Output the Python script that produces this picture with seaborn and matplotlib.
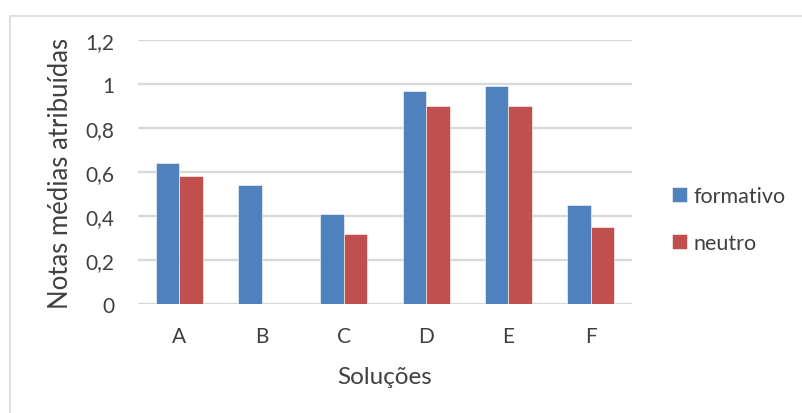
import pandas as pd
import matplotlib
matplotlib.use("Agg")
import matplotlib.pyplot as plt
import seaborn as sns
from matplotlib.patches import Rectangle
from matplotlib.ticker import FuncFormatter

solucoes = ["A", "B", "C", "D", "E", "F"]
formativo = [0.64, 0.54, 0.41, 0.97, 0.99, 0.45]
neutro = [0.58, 0.0, 0.32, 0.90, 0.90, 0.35]
series = ["formativo", "neutro"]
y_ticks = [0, 0.2, 0.4, 0.6, 0.8, 1.0, 1.2]

df = pd.DataFrame({
    "Soluções": solucoes * 2,
    "Nota": formativo + neutro,
    "Série": ["formativo"] * len(solucoes) + ["neutro"] * len(solucoes),
})

sns.set_style("white")
plt.rcParams["font.family"] = ["Lato", "DejaVu Sans"]

fig = plt.figure(figsize=(8.03, 4.14), dpi=100)
fig.patches.append(Rectangle((0.012, -0.01), 1.0, 0.97, transform=fig.transFigure,
                             fill=False, edgecolor="#d9d9d9", linewidth=1.2))
ax = fig.add_axes([0.172, 0.263, 0.615, 0.638])

sns.barplot(data=df, x="Soluções", y="Nota", hue="Série", hue_order=series,
            palette=["#4F81BD", "#C0504D"], saturation=1, width=0.57, ax=ax,
            zorder=3, edgecolor="white", linewidth=0.4)

ax.set_ylim(0, 1.2)
ax.set_xlim(-0.5, 5.5)
ax.set_yticks(y_ticks)
ax.yaxis.set_major_formatter(FuncFormatter(
    lambda v, p: "0" if v == 0 else ("1" if abs(v - 1) < 1e-9 else f"{v:.1f}".replace(".", ","))))
ax.grid(axis="y", color="#d9d9d9", linewidth=1.7, zorder=0)
for s in ax.spines.values():
    s.set_visible(False)
ax.tick_params(axis="both", length=0, labelsize=15, colors="#404040")
ax.tick_params(axis="y", pad=17)
ax.tick_params(axis="x", pad=16)

ax.set_xlabel("Soluções", fontsize=17.5, color="#404040", labelpad=14)
ax.set_ylabel("Notas médias atribuídas", fontsize=18.5, color="#404040", labelpad=9)

ax.legend(loc="center left", bbox_to_anchor=(1.042, 0.32), frameon=False,
          fontsize=15.5, handlelength=0.7, handleheight=0.7, handletextpad=0.3,
          labelspacing=1.25, labelcolor="#404040")

fig.savefig("out.png", dpi=100)
